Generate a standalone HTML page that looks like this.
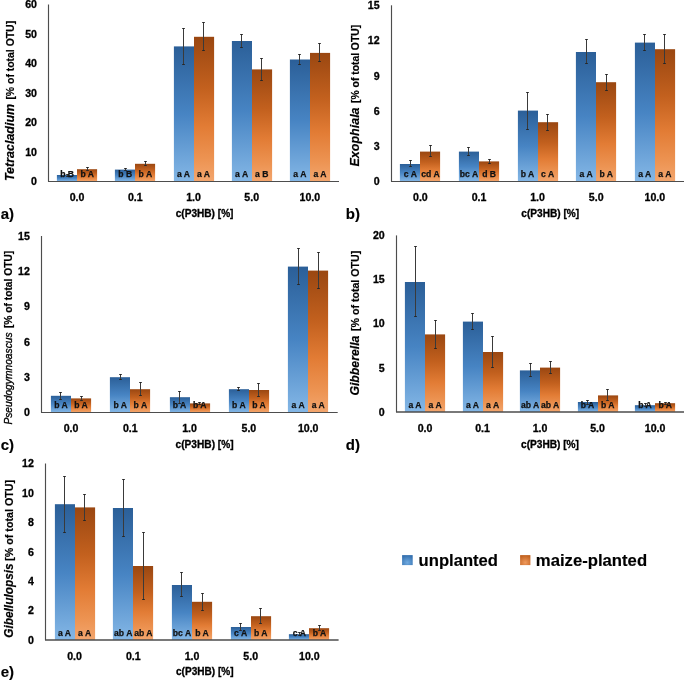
<!DOCTYPE html><html><head><meta charset="utf-8"><style>html,body{margin:0;padding:0;background:#fff;}svg{display:block;will-change:transform;}</style></head><body>
<svg width="685" height="686" viewBox="0 0 685 686" font-family='&quot;Liberation Sans&quot;, sans-serif'>
<defs><style>text{fill:#000;stroke:#000;font-weight:bold}.tk{font-size:10.6px;stroke-width:0.3}.bl{font-size:8.6px;fill:#111;stroke:#111;stroke-width:0.25}.xt{font-size:10px;stroke-width:0.3}.yb{font-size:11.2px;stroke-width:0.2}.pl{font-size:15px;stroke-width:0.15}.lg{font-size:16.5px;stroke-width:0.15}.yn{stroke-width:0.2}.yi{font-weight:normal;stroke-width:0.35}</style>
<linearGradient id="gb" x1="0" y1="0" x2="0" y2="1"><stop offset="0" stop-color="#2b5f98"/><stop offset="0.5" stop-color="#4784c3"/><stop offset="1" stop-color="#84b7e6"/></linearGradient>
<linearGradient id="go" x1="0" y1="0" x2="0" y2="1"><stop offset="0" stop-color="#9a4711"/><stop offset="0.35" stop-color="#c2601e"/><stop offset="0.62" stop-color="#e27c35"/><stop offset="0.85" stop-color="#ed9453"/><stop offset="1" stop-color="#f3a66e"/></linearGradient>
<radialGradient id="lb" cx="0.5" cy="0.75" r="0.75"><stop offset="0" stop-color="#70aae0"/><stop offset="1" stop-color="#336fae"/></radialGradient>
<radialGradient id="lo" cx="0.5" cy="0.75" r="0.75"><stop offset="0" stop-color="#f09a5c"/><stop offset="1" stop-color="#c0601e"/></radialGradient>
</defs>
<rect width="685" height="686" fill="#fff"/>
<text x="37" y="185.1" class="tk" text-anchor="end">0</text>
<text x="37" y="155.65" class="tk" text-anchor="end">10</text>
<text x="37" y="126.2" class="tk" text-anchor="end">20</text>
<text x="37" y="96.75" class="tk" text-anchor="end">30</text>
<text x="37" y="67.3" class="tk" text-anchor="end">40</text>
<text x="37" y="37.85" class="tk" text-anchor="end">50</text>
<text x="37" y="8.4" class="tk" text-anchor="end">60</text>
<rect x="56.9" y="175" width="20.1" height="6.5" fill="url(#gb)"/>
<rect x="77" y="169.2" width="20.1" height="12.3" fill="url(#go)"/>
<rect x="114.9" y="169.6" width="20.1" height="11.9" fill="url(#gb)"/>
<rect x="135" y="163.8" width="20.1" height="17.7" fill="url(#go)"/>
<rect x="173.9" y="46.4" width="20.1" height="135.1" fill="url(#gb)"/>
<rect x="194" y="36.8" width="20.1" height="144.7" fill="url(#go)"/>
<rect x="231.9" y="41" width="20.1" height="140.5" fill="url(#gb)"/>
<rect x="252" y="69.4" width="20.1" height="112.1" fill="url(#go)"/>
<rect x="289.9" y="59.5" width="20.1" height="122" fill="url(#gb)"/>
<rect x="310" y="52.9" width="20.1" height="128.6" fill="url(#go)"/>
<path d="M67.5 174.5V176.5" stroke="#3a3a3a" stroke-width="1" fill="none"/><path d="M66.2 174.5h2.6M66.2 176.5h2.6" stroke="#262626" stroke-width="1.1" fill="none"/>
<path d="M87.5 167.5V170.5" stroke="#3a3a3a" stroke-width="1" fill="none"/><path d="M86.2 167.5h2.6M86.2 170.5h2.6" stroke="#262626" stroke-width="1.1" fill="none"/>
<path d="M125.5 168.5V170.5" stroke="#3a3a3a" stroke-width="1" fill="none"/><path d="M124.2 168.5h2.6M124.2 170.5h2.6" stroke="#262626" stroke-width="1.1" fill="none"/>
<path d="M145.5 161.5V165.5" stroke="#3a3a3a" stroke-width="1" fill="none"/><path d="M144.2 161.5h2.6M144.2 165.5h2.6" stroke="#262626" stroke-width="1.1" fill="none"/>
<path d="M183.5 28.5V64.5" stroke="#3a3a3a" stroke-width="1" fill="none"/><path d="M182.2 28.5h2.6M182.2 64.5h2.6" stroke="#262626" stroke-width="1.1" fill="none"/>
<path d="M203.5 22.5V50.5" stroke="#3a3a3a" stroke-width="1" fill="none"/><path d="M202.2 22.5h2.6M202.2 50.5h2.6" stroke="#262626" stroke-width="1.1" fill="none"/>
<path d="M241.5 34.5V47.5" stroke="#3a3a3a" stroke-width="1" fill="none"/><path d="M240.2 34.5h2.6M240.2 47.5h2.6" stroke="#262626" stroke-width="1.1" fill="none"/>
<path d="M261.5 58.5V80.5" stroke="#3a3a3a" stroke-width="1" fill="none"/><path d="M260.2 58.5h2.6M260.2 80.5h2.6" stroke="#262626" stroke-width="1.1" fill="none"/>
<path d="M299.5 54.5V64.5" stroke="#3a3a3a" stroke-width="1" fill="none"/><path d="M298.2 54.5h2.6M298.2 64.5h2.6" stroke="#262626" stroke-width="1.1" fill="none"/>
<path d="M319.5 43.5V61.5" stroke="#3a3a3a" stroke-width="1" fill="none"/><path d="M318.2 43.5h2.6M318.2 61.5h2.6" stroke="#262626" stroke-width="1.1" fill="none"/>
<text x="67.05" y="177.2" class="bl" text-anchor="middle">b B</text>
<text x="87.15" y="177.2" class="bl" text-anchor="middle">b A</text>
<text x="125.25" y="177.2" class="bl" text-anchor="middle">b B</text>
<text x="145.35" y="177.2" class="bl" text-anchor="middle">b A</text>
<text x="183.45" y="177.2" class="bl" text-anchor="middle">a A</text>
<text x="203.55" y="177.2" class="bl" text-anchor="middle">a A</text>
<text x="241.65" y="177.2" class="bl" text-anchor="middle">a A</text>
<text x="261.75" y="177.2" class="bl" text-anchor="middle">a B</text>
<text x="299.85" y="177.2" class="bl" text-anchor="middle">a A</text>
<text x="319.95" y="177.2" class="bl" text-anchor="middle">a A</text>
<path d="M48.5 4.5V181.5" stroke="#4d4d4d" stroke-width="1.15" fill="none"/>
<path d="M48 181.5H339" stroke="#4d4d4d" stroke-width="1.15" fill="none"/>
<text x="77.1" y="200.5" class="tk" text-anchor="middle">0.0</text>
<text x="135.3" y="200.5" class="tk" text-anchor="middle">0.1</text>
<text x="193.5" y="200.5" class="tk" text-anchor="middle">1.0</text>
<text x="251.7" y="200.5" class="tk" text-anchor="middle">5.0</text>
<text x="309.9" y="200.5" class="tk" text-anchor="middle">10.0</text>
<text x="175.7" y="216.8" class="xt" textLength="57.8" lengthAdjust="spacingAndGlyphs">c(P3HB) [%]</text>
<text transform="translate(14.3 181.1) rotate(-90)" class="yn" font-size="13.0" font-style="italic" textLength="77.3" lengthAdjust="spacingAndGlyphs">Tetracladium</text>
<text transform="translate(14.3 99.6) rotate(-90)" class="yb" textLength="78.7" lengthAdjust="spacingAndGlyphs">[% of total OTU]</text>
<text x="0.7" y="218.8" class="pl">a)</text>
<text x="379.6" y="185.1" class="tk" text-anchor="end">0</text>
<text x="379.6" y="149.92" class="tk" text-anchor="end">3</text>
<text x="379.6" y="114.74" class="tk" text-anchor="end">6</text>
<text x="379.6" y="79.56" class="tk" text-anchor="end">9</text>
<text x="379.6" y="44.38" class="tk" text-anchor="end">12</text>
<text x="379.6" y="9.2" class="tk" text-anchor="end">15</text>
<rect x="399.9" y="164" width="20.1" height="17.5" fill="url(#gb)"/>
<rect x="420" y="151.6" width="20.1" height="29.9" fill="url(#go)"/>
<rect x="458.9" y="151.6" width="20.1" height="29.9" fill="url(#gb)"/>
<rect x="479" y="161.4" width="20.1" height="20.1" fill="url(#go)"/>
<rect x="517.9" y="110.6" width="20.1" height="70.9" fill="url(#gb)"/>
<rect x="538" y="122.2" width="20.1" height="59.3" fill="url(#go)"/>
<rect x="575.9" y="52" width="20.1" height="129.5" fill="url(#gb)"/>
<rect x="596" y="82.2" width="20.1" height="99.3" fill="url(#go)"/>
<rect x="634.9" y="42.6" width="20.1" height="138.9" fill="url(#gb)"/>
<rect x="655" y="49.2" width="20.1" height="132.3" fill="url(#go)"/>
<path d="M410.5 160.5V166.5" stroke="#3a3a3a" stroke-width="1" fill="none"/><path d="M409.2 160.5h2.6M409.2 166.5h2.6" stroke="#262626" stroke-width="1.1" fill="none"/>
<path d="M430.5 145.5V156.5" stroke="#3a3a3a" stroke-width="1" fill="none"/><path d="M429.2 145.5h2.6M429.2 156.5h2.6" stroke="#262626" stroke-width="1.1" fill="none"/>
<path d="M468.5 147.5V155.5" stroke="#3a3a3a" stroke-width="1" fill="none"/><path d="M467.2 147.5h2.6M467.2 155.5h2.6" stroke="#262626" stroke-width="1.1" fill="none"/>
<path d="M489.5 159.5V163.5" stroke="#3a3a3a" stroke-width="1" fill="none"/><path d="M488.2 159.5h2.6M488.2 163.5h2.6" stroke="#262626" stroke-width="1.1" fill="none"/>
<path d="M527.5 92.5V129.5" stroke="#3a3a3a" stroke-width="1" fill="none"/><path d="M526.2 92.5h2.6M526.2 129.5h2.6" stroke="#262626" stroke-width="1.1" fill="none"/>
<path d="M547.5 114.5V130.5" stroke="#3a3a3a" stroke-width="1" fill="none"/><path d="M546.2 114.5h2.6M546.2 130.5h2.6" stroke="#262626" stroke-width="1.1" fill="none"/>
<path d="M586.5 39.5V63.5" stroke="#3a3a3a" stroke-width="1" fill="none"/><path d="M585.2 39.5h2.6M585.2 63.5h2.6" stroke="#262626" stroke-width="1.1" fill="none"/>
<path d="M606.5 74.5V90.5" stroke="#3a3a3a" stroke-width="1" fill="none"/><path d="M605.2 74.5h2.6M605.2 90.5h2.6" stroke="#262626" stroke-width="1.1" fill="none"/>
<path d="M644.5 34.5V50.5" stroke="#3a3a3a" stroke-width="1" fill="none"/><path d="M643.2 34.5h2.6M643.2 50.5h2.6" stroke="#262626" stroke-width="1.1" fill="none"/>
<path d="M664.5 34.5V63.5" stroke="#3a3a3a" stroke-width="1" fill="none"/><path d="M663.2 34.5h2.6M663.2 63.5h2.6" stroke="#262626" stroke-width="1.1" fill="none"/>
<text x="410.35" y="177.2" class="bl" text-anchor="middle">c A</text>
<text x="430.45" y="177.2" class="bl" text-anchor="middle">cd A</text>
<text x="468.95" y="177.2" class="bl" text-anchor="middle">bc A</text>
<text x="489.05" y="177.2" class="bl" text-anchor="middle">d B</text>
<text x="527.55" y="177.2" class="bl" text-anchor="middle">b A</text>
<text x="547.65" y="177.2" class="bl" text-anchor="middle">c A</text>
<text x="586.15" y="177.2" class="bl" text-anchor="middle">a A</text>
<text x="606.25" y="177.2" class="bl" text-anchor="middle">b A</text>
<text x="644.75" y="177.2" class="bl" text-anchor="middle">a A</text>
<text x="664.85" y="177.2" class="bl" text-anchor="middle">a A</text>
<path d="M391.5 5.3V181.5" stroke="#4d4d4d" stroke-width="1.15" fill="none"/>
<path d="M391 181.5H684" stroke="#4d4d4d" stroke-width="1.15" fill="none"/>
<text x="420.4" y="200.6" class="tk" text-anchor="middle">0.0</text>
<text x="479" y="200.6" class="tk" text-anchor="middle">0.1</text>
<text x="537.6" y="200.6" class="tk" text-anchor="middle">1.0</text>
<text x="596.2" y="200.6" class="tk" text-anchor="middle">5.0</text>
<text x="654.8" y="200.6" class="tk" text-anchor="middle">10.0</text>
<text x="521.3" y="216.8" class="xt" textLength="57.9" lengthAdjust="spacingAndGlyphs">c(P3HB) [%]</text>
<text transform="translate(358.9 166.6) rotate(-90)" class="yn" font-size="13.0" font-style="italic" textLength="59.2" lengthAdjust="spacingAndGlyphs">Exophiala</text>
<text transform="translate(358.9 102.9) rotate(-90)" class="yb" textLength="78" lengthAdjust="spacingAndGlyphs">[% of total OTU]</text>
<text x="345.8" y="218.8" class="pl">b)</text>
<text x="29.8" y="416.1" class="tk" text-anchor="end">0</text>
<text x="29.8" y="380.86" class="tk" text-anchor="end">3</text>
<text x="29.8" y="345.62" class="tk" text-anchor="end">6</text>
<text x="29.8" y="310.38" class="tk" text-anchor="end">9</text>
<text x="29.8" y="275.14" class="tk" text-anchor="end">12</text>
<text x="29.8" y="239.9" class="tk" text-anchor="end">15</text>
<rect x="50.9" y="395.8" width="20.1" height="16.7" fill="url(#gb)"/>
<rect x="71" y="398.4" width="20.1" height="14.1" fill="url(#go)"/>
<rect x="109.9" y="377.2" width="20.1" height="35.3" fill="url(#gb)"/>
<rect x="130" y="389.2" width="20.1" height="23.3" fill="url(#go)"/>
<rect x="169.9" y="397.2" width="20.1" height="15.3" fill="url(#gb)"/>
<rect x="190" y="403.4" width="20.1" height="9.1" fill="url(#go)"/>
<rect x="228.9" y="389.2" width="20.1" height="23.3" fill="url(#gb)"/>
<rect x="249" y="390" width="20.1" height="22.5" fill="url(#go)"/>
<rect x="287.9" y="266.6" width="20.1" height="145.9" fill="url(#gb)"/>
<rect x="308" y="270.6" width="20.1" height="141.9" fill="url(#go)"/>
<path d="M60.5 392.5V399.5" stroke="#3a3a3a" stroke-width="1" fill="none"/><path d="M59.2 392.5h2.6M59.2 399.5h2.6" stroke="#262626" stroke-width="1.1" fill="none"/>
<path d="M81.5 396.5V400.5" stroke="#3a3a3a" stroke-width="1" fill="none"/><path d="M80.2 396.5h2.6M80.2 400.5h2.6" stroke="#262626" stroke-width="1.1" fill="none"/>
<path d="M120.5 374.5V379.5" stroke="#3a3a3a" stroke-width="1" fill="none"/><path d="M119.2 374.5h2.6M119.2 379.5h2.6" stroke="#262626" stroke-width="1.1" fill="none"/>
<path d="M140.5 382.5V395.5" stroke="#3a3a3a" stroke-width="1" fill="none"/><path d="M139.2 382.5h2.6M139.2 395.5h2.6" stroke="#262626" stroke-width="1.1" fill="none"/>
<path d="M179.5 391.5V403.5" stroke="#3a3a3a" stroke-width="1" fill="none"/><path d="M178.2 391.5h2.6M178.2 403.5h2.6" stroke="#262626" stroke-width="1.1" fill="none"/>
<path d="M199.5 402.5V404.5" stroke="#3a3a3a" stroke-width="1" fill="none"/><path d="M198.2 402.5h2.6M198.2 404.5h2.6" stroke="#262626" stroke-width="1.1" fill="none"/>
<path d="M238.5 387.5V390.5" stroke="#3a3a3a" stroke-width="1" fill="none"/><path d="M237.2 387.5h2.6M237.2 390.5h2.6" stroke="#262626" stroke-width="1.1" fill="none"/>
<path d="M258.5 383.5V396.5" stroke="#3a3a3a" stroke-width="1" fill="none"/><path d="M257.2 383.5h2.6M257.2 396.5h2.6" stroke="#262626" stroke-width="1.1" fill="none"/>
<path d="M298.5 248.5V284.5" stroke="#3a3a3a" stroke-width="1" fill="none"/><path d="M297.2 248.5h2.6M297.2 284.5h2.6" stroke="#262626" stroke-width="1.1" fill="none"/>
<path d="M318.5 252.5V288.5" stroke="#3a3a3a" stroke-width="1" fill="none"/><path d="M317.2 252.5h2.6M317.2 288.5h2.6" stroke="#262626" stroke-width="1.1" fill="none"/>
<text x="60.95" y="408.2" class="bl" text-anchor="middle">b A</text>
<text x="81.05" y="408.2" class="bl" text-anchor="middle">b A</text>
<text x="120.25" y="408.2" class="bl" text-anchor="middle">b A</text>
<text x="140.35" y="408.2" class="bl" text-anchor="middle">b A</text>
<text x="179.55" y="408.2" class="bl" text-anchor="middle">b A</text>
<text x="199.65" y="408.2" class="bl" text-anchor="middle">b A</text>
<text x="238.85" y="408.2" class="bl" text-anchor="middle">b A</text>
<text x="258.95" y="408.2" class="bl" text-anchor="middle">b A</text>
<text x="298.15" y="408.2" class="bl" text-anchor="middle">a A</text>
<text x="318.25" y="408.2" class="bl" text-anchor="middle">a A</text>
<path d="M41.5 236V412.5" stroke="#4d4d4d" stroke-width="1.15" fill="none"/>
<path d="M41 412.5H337.7" stroke="#4d4d4d" stroke-width="1.15" fill="none"/>
<text x="71" y="431.8" class="tk" text-anchor="middle">0.0</text>
<text x="130.3" y="431.8" class="tk" text-anchor="middle">0.1</text>
<text x="189.6" y="431.8" class="tk" text-anchor="middle">1.0</text>
<text x="248.9" y="431.8" class="tk" text-anchor="middle">5.0</text>
<text x="308.2" y="431.8" class="tk" text-anchor="middle">10.0</text>
<text x="175.6" y="447.8" class="xt" textLength="58" lengthAdjust="spacingAndGlyphs">c(P3HB) [%]</text>
<text transform="translate(12.1 424.6) rotate(-90)" class="yi" font-size="11.5" font-style="italic" textLength="92.2" lengthAdjust="spacingAndGlyphs">Pseudogymnoascus</text>
<text transform="translate(12.1 328.1) rotate(-90)" class="yb" textLength="77.3" lengthAdjust="spacingAndGlyphs">[% of total OTU]</text>
<text x="0.7" y="450.1" class="pl">c)</text>
<text x="384.7" y="415.6" class="tk" text-anchor="end">0</text>
<text x="384.7" y="371.53" class="tk" text-anchor="end">5</text>
<text x="384.7" y="327.45" class="tk" text-anchor="end">10</text>
<text x="384.7" y="283.38" class="tk" text-anchor="end">15</text>
<text x="384.7" y="239.3" class="tk" text-anchor="end">20</text>
<rect x="404.9" y="282" width="20.1" height="130" fill="url(#gb)"/>
<rect x="425" y="334.4" width="20.1" height="77.6" fill="url(#go)"/>
<rect x="462.9" y="321.6" width="20.1" height="90.4" fill="url(#gb)"/>
<rect x="483" y="352" width="20.1" height="60" fill="url(#go)"/>
<rect x="519.9" y="370.4" width="20.1" height="41.6" fill="url(#gb)"/>
<rect x="540" y="367.6" width="20.1" height="44.4" fill="url(#go)"/>
<rect x="577.9" y="402" width="20.1" height="10" fill="url(#gb)"/>
<rect x="598" y="395.4" width="20.1" height="16.6" fill="url(#go)"/>
<rect x="634.9" y="405.2" width="20.1" height="6.8" fill="url(#gb)"/>
<rect x="655" y="403.2" width="20.1" height="8.8" fill="url(#go)"/>
<path d="M415.5 246.5V316.5" stroke="#3a3a3a" stroke-width="1" fill="none"/><path d="M414.2 246.5h2.6M414.2 316.5h2.6" stroke="#262626" stroke-width="1.1" fill="none"/>
<path d="M435.5 320.5V348.5" stroke="#3a3a3a" stroke-width="1" fill="none"/><path d="M434.2 320.5h2.6M434.2 348.5h2.6" stroke="#262626" stroke-width="1.1" fill="none"/>
<path d="M472.5 313.5V329.5" stroke="#3a3a3a" stroke-width="1" fill="none"/><path d="M471.2 313.5h2.6M471.2 329.5h2.6" stroke="#262626" stroke-width="1.1" fill="none"/>
<path d="M492.5 336.5V367.5" stroke="#3a3a3a" stroke-width="1" fill="none"/><path d="M491.2 336.5h2.6M491.2 367.5h2.6" stroke="#262626" stroke-width="1.1" fill="none"/>
<path d="M530.5 363.5V376.5" stroke="#3a3a3a" stroke-width="1" fill="none"/><path d="M529.2 363.5h2.6M529.2 376.5h2.6" stroke="#262626" stroke-width="1.1" fill="none"/>
<path d="M550.5 361.5V373.5" stroke="#3a3a3a" stroke-width="1" fill="none"/><path d="M549.2 361.5h2.6M549.2 373.5h2.6" stroke="#262626" stroke-width="1.1" fill="none"/>
<path d="M587.5 400.5V404.5" stroke="#3a3a3a" stroke-width="1" fill="none"/><path d="M586.2 400.5h2.6M586.2 404.5h2.6" stroke="#262626" stroke-width="1.1" fill="none"/>
<path d="M607.5 389.5V400.5" stroke="#3a3a3a" stroke-width="1" fill="none"/><path d="M606.2 389.5h2.6M606.2 400.5h2.6" stroke="#262626" stroke-width="1.1" fill="none"/>
<path d="M645.5 403.5V406.5" stroke="#3a3a3a" stroke-width="1" fill="none"/><path d="M644.2 403.5h2.6M644.2 406.5h2.6" stroke="#262626" stroke-width="1.1" fill="none"/>
<path d="M665.5 402.5V404.5" stroke="#3a3a3a" stroke-width="1" fill="none"/><path d="M664.2 402.5h2.6M664.2 404.5h2.6" stroke="#262626" stroke-width="1.1" fill="none"/>
<text x="415.05" y="407.7" class="bl" text-anchor="middle">a A</text>
<text x="435.15" y="407.7" class="bl" text-anchor="middle">a A</text>
<text x="472.55" y="407.7" class="bl" text-anchor="middle">a A</text>
<text x="492.65" y="407.7" class="bl" text-anchor="middle">a A</text>
<text x="530.05" y="407.7" class="bl" text-anchor="middle">ab A</text>
<text x="550.15" y="407.7" class="bl" text-anchor="middle">ab A</text>
<text x="587.55" y="407.7" class="bl" text-anchor="middle">b A</text>
<text x="607.65" y="407.7" class="bl" text-anchor="middle">b A</text>
<text x="645.05" y="407.7" class="bl" text-anchor="middle">b A</text>
<text x="665.15" y="407.7" class="bl" text-anchor="middle">b A</text>
<path d="M396.5 235.4V412" stroke="#4d4d4d" stroke-width="1.15" fill="none"/>
<path d="M396 412H684" stroke="#4d4d4d" stroke-width="1.45" fill="none"/>
<text x="425.1" y="431.5" class="tk" text-anchor="middle">0.0</text>
<text x="482.6" y="431.5" class="tk" text-anchor="middle">0.1</text>
<text x="540.1" y="431.5" class="tk" text-anchor="middle">1.0</text>
<text x="597.6" y="431.5" class="tk" text-anchor="middle">5.0</text>
<text x="655.1" y="431.5" class="tk" text-anchor="middle">10.0</text>
<text x="521" y="447.8" class="xt" textLength="58" lengthAdjust="spacingAndGlyphs">c(P3HB) [%]</text>
<text transform="translate(359.3 395.6) rotate(-90)" class="yn" font-size="13.0" font-style="italic" textLength="60" lengthAdjust="spacingAndGlyphs">Gibberella</text>
<text transform="translate(359.3 331) rotate(-90)" class="yb" textLength="80.2" lengthAdjust="spacingAndGlyphs">[% of total OTU]</text>
<text x="345.8" y="449.8" class="pl">d)</text>
<text x="33.8" y="643.6" class="tk" text-anchor="end">0</text>
<text x="33.8" y="614.23" class="tk" text-anchor="end">2</text>
<text x="33.8" y="584.87" class="tk" text-anchor="end">4</text>
<text x="33.8" y="555.5" class="tk" text-anchor="end">6</text>
<text x="33.8" y="526.13" class="tk" text-anchor="end">8</text>
<text x="33.8" y="496.77" class="tk" text-anchor="end">10</text>
<text x="33.8" y="467.4" class="tk" text-anchor="end">12</text>
<rect x="54.9" y="504.2" width="20.1" height="135.8" fill="url(#gb)"/>
<rect x="75" y="507.4" width="20.1" height="132.6" fill="url(#go)"/>
<rect x="112.9" y="508" width="20.1" height="132" fill="url(#gb)"/>
<rect x="133" y="566" width="20.1" height="74" fill="url(#go)"/>
<rect x="171.9" y="585" width="20.1" height="55" fill="url(#gb)"/>
<rect x="192" y="601.8" width="20.1" height="38.2" fill="url(#go)"/>
<rect x="230.9" y="627" width="20.1" height="13" fill="url(#gb)"/>
<rect x="251" y="616.2" width="20.1" height="23.8" fill="url(#go)"/>
<rect x="288.9" y="634.2" width="20.1" height="5.8" fill="url(#gb)"/>
<rect x="309" y="628.2" width="20.1" height="11.8" fill="url(#go)"/>
<path d="M64.5 476.5V532.5" stroke="#3a3a3a" stroke-width="1" fill="none"/><path d="M63.2 476.5h2.6M63.2 532.5h2.6" stroke="#262626" stroke-width="1.1" fill="none"/>
<path d="M84.5 494.5V520.5" stroke="#3a3a3a" stroke-width="1" fill="none"/><path d="M83.2 494.5h2.6M83.2 520.5h2.6" stroke="#262626" stroke-width="1.1" fill="none"/>
<path d="M123.5 479.5V536.5" stroke="#3a3a3a" stroke-width="1" fill="none"/><path d="M122.2 479.5h2.6M122.2 536.5h2.6" stroke="#262626" stroke-width="1.1" fill="none"/>
<path d="M143.5 532.5V599.5" stroke="#3a3a3a" stroke-width="1" fill="none"/><path d="M142.2 532.5h2.6M142.2 599.5h2.6" stroke="#262626" stroke-width="1.1" fill="none"/>
<path d="M181.5 572.5V596.5" stroke="#3a3a3a" stroke-width="1" fill="none"/><path d="M180.2 572.5h2.6M180.2 596.5h2.6" stroke="#262626" stroke-width="1.1" fill="none"/>
<path d="M202.5 593.5V610.5" stroke="#3a3a3a" stroke-width="1" fill="none"/><path d="M201.2 593.5h2.6M201.2 610.5h2.6" stroke="#262626" stroke-width="1.1" fill="none"/>
<path d="M240.5 623.5V630.5" stroke="#3a3a3a" stroke-width="1" fill="none"/><path d="M239.2 623.5h2.6M239.2 630.5h2.6" stroke="#262626" stroke-width="1.1" fill="none"/>
<path d="M260.5 608.5V623.5" stroke="#3a3a3a" stroke-width="1" fill="none"/><path d="M259.2 608.5h2.6M259.2 623.5h2.6" stroke="#262626" stroke-width="1.1" fill="none"/>
<path d="M299.5 632.5V635.5" stroke="#3a3a3a" stroke-width="1" fill="none"/><path d="M298.2 632.5h2.6M298.2 635.5h2.6" stroke="#262626" stroke-width="1.1" fill="none"/>
<path d="M319.5 625.5V630.5" stroke="#3a3a3a" stroke-width="1" fill="none"/><path d="M318.2 625.5h2.6M318.2 630.5h2.6" stroke="#262626" stroke-width="1.1" fill="none"/>
<text x="64.55" y="635.7" class="bl" text-anchor="middle">a A</text>
<text x="84.65" y="635.7" class="bl" text-anchor="middle">a A</text>
<text x="123.25" y="635.7" class="bl" text-anchor="middle">ab A</text>
<text x="143.35" y="635.7" class="bl" text-anchor="middle">ab A</text>
<text x="181.95" y="635.7" class="bl" text-anchor="middle">bc A</text>
<text x="202.05" y="635.7" class="bl" text-anchor="middle">b A</text>
<text x="240.65" y="635.7" class="bl" text-anchor="middle">c A</text>
<text x="260.75" y="635.7" class="bl" text-anchor="middle">b A</text>
<text x="299.35" y="635.7" class="bl" text-anchor="middle">c A</text>
<text x="319.45" y="635.7" class="bl" text-anchor="middle">b A</text>
<path d="M45.5 463.5V640" stroke="#4d4d4d" stroke-width="1.15" fill="none"/>
<path d="M45 640H338.6" stroke="#4d4d4d" stroke-width="1.45" fill="none"/>
<text x="74.6" y="659.8" class="tk" text-anchor="middle">0.0</text>
<text x="133.3" y="659.8" class="tk" text-anchor="middle">0.1</text>
<text x="192" y="659.8" class="tk" text-anchor="middle">1.0</text>
<text x="250.7" y="659.8" class="tk" text-anchor="middle">5.0</text>
<text x="309.4" y="659.8" class="tk" text-anchor="middle">10.0</text>
<text x="176" y="675.2" class="xt" textLength="57.6" lengthAdjust="spacingAndGlyphs">c(P3HB) [%]</text>
<text transform="translate(13.3 637.8) rotate(-90)" class="yn" font-size="13.0" font-style="italic" textLength="74.5" lengthAdjust="spacingAndGlyphs">Gibellulopsis</text>
<text transform="translate(13.3 560.8) rotate(-90)" class="yb" textLength="80.9" lengthAdjust="spacingAndGlyphs">[% of total OTU]</text>
<text x="0.7" y="677.2" class="pl">e)</text>
<rect x="402.1" y="555.1" width="10.6" height="10" fill="url(#lb)"/>
<text x="418.6" y="565.6" class="lg" textLength="79.4" lengthAdjust="spacingAndGlyphs">unplanted</text>
<rect x="520.1" y="555.1" width="10.3" height="10" fill="url(#lo)"/>
<text x="535.8" y="565.6" class="lg" textLength="111.3" lengthAdjust="spacingAndGlyphs">maize-planted</text>
</svg></body></html>
